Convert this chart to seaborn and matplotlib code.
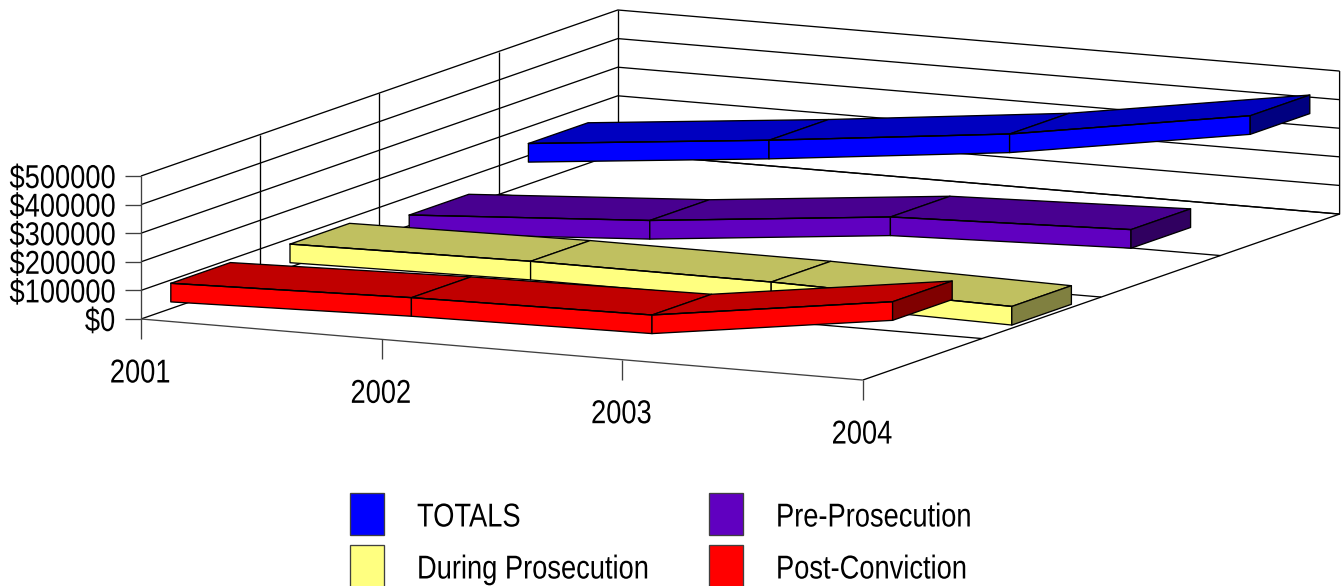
import matplotlib
matplotlib.use("Agg")
import matplotlib.pyplot as plt
import numpy as np
import pandas as pd
import seaborn as sns
from matplotlib.patches import Rectangle
from matplotlib.patheffects import AbstractPathEffect
from matplotlib.text import Text
from matplotlib.transforms import Affine2D

sns.set_theme(style="white")
plt.rcParams["font.family"] = ["Liberation Sans", "DejaVu Sans"]

YEARS = ["2001", "2002", "2003", "2004"]
Y_TICKS = [0, 100000, 200000, 300000, 400000, 500000]

# values, ribbons listed front to back
SERIES = ["Post-Conviction", "During Prosecution", "Pre-Prosecution", "TOTALS"]
POST_CONVICTION = [56000, 77000, 87500, 205000]
DURING_PROSECUTION = [48000, 59000, 57700, 43400]
PRE_PROSECUTION = [4500, 56600, 140000, 167000]
TOTALS = [109500, 192000, 285000, 420000]
VALUES = [POST_CONVICTION, DURING_PROSECUTION, PRE_PROSECUTION, TOTALS]

FRONT = ["#FF0000", "#FFFF80", "#6000C0", "#0000FF"]
TOP = ["#C00000", "#C0C060", "#480090", "#0000C0"]
SIDE = ["#800000", "#808040", "#300060", "#000080"]

# oblique projection of the box, in pixels of the 1343x586 picture
ORIGIN = np.array([141.0, 319.0])
X_STEP = np.array([240.6, 20.35])   # one year along the front
D_STEP = np.array([119.2, -41.5])   # one series towards the back
V_PX = 143.0 / 500000               # pixels per dollar
THICK = 18.6                        # ribbon height in pixels
LW = 0.95
FONT_SIZE = 23.8
NARROW = 0.825                      # the original font is a condensed one


class Squeeze(AbstractPathEffect):
    def __init__(self, cx, shift=0):
        super().__init__()
        self.cx = cx
        self.shift = shift

    def draw_path(self, renderer, gc, tpath, affine, rgbFace=None):
        squeeze = Affine2D().translate(-self.cx, 0).scale(NARROW, 1).translate(self.cx + self.shift, 0)
        renderer.draw_path(gc, tpath, affine + squeeze, rgbFace)


def label(ax, x, y, s, ha, shift=0):
    t = Text(x, y, s, ha=ha, va="center", fontsize=FONT_SIZE, color="black", zorder=5)
    t.set_path_effects([Squeeze(x, shift)])
    ax.add_artist(t)


def project(x, d, v=0.0):
    p = ORIGIN + x * X_STEP + d * D_STEP
    return p[0], p[1] - v * V_PX


def segment(ax, pts, color="black", lw=LW):
    xs, ys = zip(*pts)
    ax.plot(xs, ys, color=color, lw=lw, solid_capstyle="butt", zorder=1)


def face(ax, pts, color, zorder):
    ax.fill(*zip(*pts), facecolor=color, edgecolor="black", lw=LW, joinstyle="round", zorder=zorder)


def draw_box(ax):
    n_d = len(SERIES)
    n_x = len(YEARS) - 1
    for tick in Y_TICKS:
        segment(ax, [project(0, 0, tick), project(0, n_d, tick), project(n_x, n_d, tick)])
        x0, y0 = project(0, 0, tick)
        segment(ax, [(x0 - 16, y0), (x0, y0)], color="#404040")
        # anchored right of the final spot so the unsqueezed text box stays inside the picture
        label(ax, x0 - 10, y0 + 3.5, f"${tick}", "right", shift=-16)
    for d in range(1, n_d + 1):
        segment(ax, [project(0, d), project(n_x, d)])
        segment(ax, [project(0, d), project(0, d, Y_TICKS[-1])])
    segment(ax, [project(n_x, 0), project(n_x, n_d), project(n_x, n_d, Y_TICKS[-1])])
    segment(ax, [project(0, 0, Y_TICKS[-1]), project(0, 0)], color="#404040")
    segment(ax, [project(0, 0), project(n_x, 0)], color="#404040")
    for i, year in enumerate(YEARS):
        x0, y0 = project(i, 0)
        segment(ax, [(x0, y0), (x0, y0 + 20)], color="#404040")
        label(ax, x0 - 1, y0 + 55, year, "center")


def draw_ribbon(ax, k):
    vals = VALUES[k]
    d0, d1 = k + 0.25, k + 0.75
    base = 10 + (len(SERIES) - k) * 10
    for i in range(len(vals) - 1):
        a, b = vals[i], vals[i + 1]
        fa = project(i, d0, a)
        fb = project(i + 1, d0, b)
        ba = project(i, d1, a)
        bb = project(i + 1, d1, b)
        top = [(p[0], p[1] - THICK / 2) for p in (fa, fb, bb, ba)]
        front = [(fa[0], fa[1] - THICK / 2), (fb[0], fb[1] - THICK / 2), (fb[0], fb[1] + THICK / 2), (fa[0], fa[1] + THICK / 2)]
        face(ax, top, TOP[k], base)
        face(ax, front, FRONT[k], base + 1)
    end_f = project(len(vals) - 1, d0, vals[-1])
    end_b = project(len(vals) - 1, d1, vals[-1])
    side = [(end_f[0], end_f[1] - THICK / 2), (end_b[0], end_b[1] - THICK / 2), (end_b[0], end_b[1] + THICK / 2), (end_f[0], end_f[1] + THICK / 2)]
    face(ax, side, SIDE[k], base + 2)
    # top front edge again through seaborn so it stays crisp over the faces
    pts = [project(i, d0, v) for i, v in enumerate(vals)]
    edge = pd.DataFrame({"x": [p[0] for p in pts], "y": [p[1] - THICK / 2 for p in pts]})
    sns.lineplot(data=edge, x="x", y="y", color="black", lw=LW, estimator=None, sort=False, ax=ax, zorder=base + 3)


def draw_legend(ax):
    rows = [("TOTALS", "#0000FF", 350, 493), ("Pre-Prosecution", "#6000C0", 709, 493),
            ("During Prosecution", "#FFFF80", 350, 545), ("Post-Conviction", "#FF0000", 709, 545)]
    for name, color, x, y in rows:
        ax.add_patch(Rectangle((x, y), 34, 42, facecolor=color, edgecolor="#404040", lw=LW, zorder=5))
        label(ax, x + 67, y + 25, name, "left")


fig = plt.figure(figsize=(13.43, 5.86), dpi=100)
ax = fig.add_axes([0, 0, 1, 1])
draw_box(ax)
for k in range(len(SERIES)):
    draw_ribbon(ax, k)
draw_legend(ax)
ax.set_xlim(0, 1343)
ax.set_ylim(586, 0)
ax.axis("off")
fig.savefig("out.png", dpi=100)
